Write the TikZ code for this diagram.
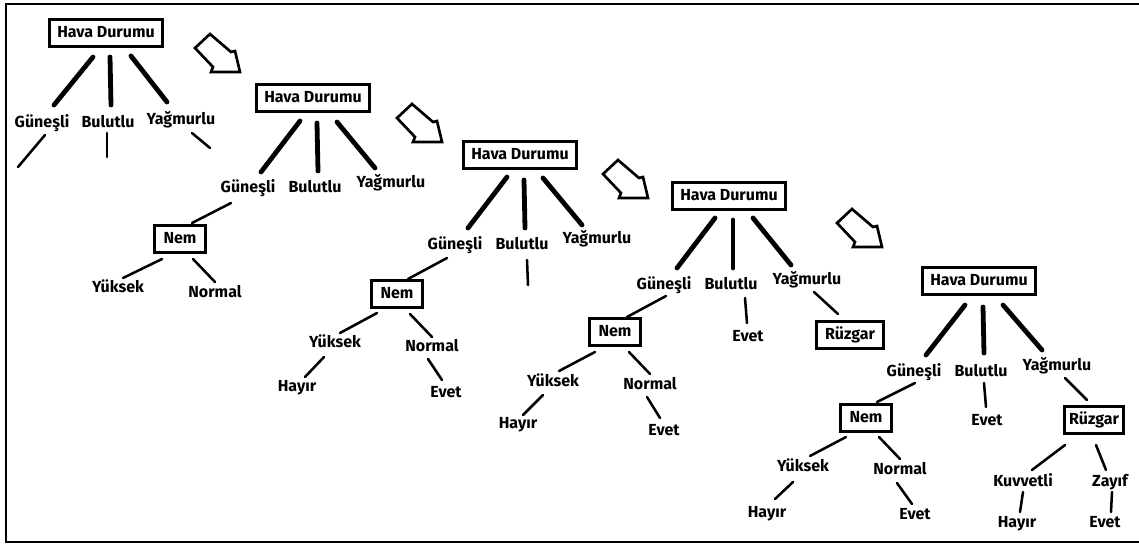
\documentclass[tikz,border=0pt]{standalone}
\usepackage{fontspec}
\setmainfont{Fira Sans}
\begin{document}
\begin{tikzpicture}[x=0.75pt,y=-0.75pt,
  lbl/.style={inner sep=0pt, font=\bfseries\fontsize{12}{14}\selectfont, text height=8.5pt, text depth=2.2pt},
  bx/.style={lbl, draw, line width=2.2pt, minimum height=20pt},
  hbox/.style={bx, minimum width=84.75pt},
  nbox/.style={bx, minimum width=38pt},
  thk/.style={line width=3.6pt, line cap=round},
  thn/.style={line width=1.9pt, line cap=round},
  hollowarrow/.pic={\draw[line width=2pt, line join=miter] (-30,-38) -- (-9,-20) -- (-5,-21) -- (0,0) -- (-29,0) -- (-27,-5) -- (-45,-24) -- cycle;}
]
\newcommand\conn[5]{\draw[#1] ([shift={#3}]#2.center) -- ([shift={#5}]#4.center);}
\useasboundingbox (0,0) rectangle (1139,543);
% frame
\draw[line width=2pt] (1145,4) -- (6,4) -- (6,542) -- (1145,542);
% arrows
\pic at (240,72) {hollowarrow};
\pic at (442,142) {hollowarrow};
\pic at (648,198) {hollowarrow};
\pic at (882,247) {hollowarrow};

% ---------- Tree 1 ----------
\node[hbox, minimum height=20.25pt] (ha) at (106,33) {Hava Durumu};
\node[lbl] (ga) at (42,123) {Güneşli};
\node[lbl] (ba) at (108,123) {Bulutlu};
\node[lbl] (ya) at (181,120) {Yağmurlu};
\coordinate (gaend) at (18,167);
\coordinate (baend) at (107,157);
\coordinate (yaend) at (210,148);
\conn{thk}{ha}{(-13,24)}{ga}{(12,-18)}
\conn{thk}{ha}{(4,24)}{ba}{(3,-18)}
\conn{thk}{ha}{(25,23)}{ya}{(-14,-18)}
\draw[thn] ([shift={(3,12)}]ga.center) -- (gaend);
\draw[thn] ([shift={(-1,10)}]ba.center) -- (baend);
\draw[thn] ([shift={(11,13)}]ya.center) -- (yaend);

% ---------- Tree 2 ----------
\node[hbox] (hb) at (313,98) {Hava Durumu};
\node[lbl] (gb) at (248,188) {Güneşli};
\node[lbl] (bb) at (315,188) {Bulutlu};
\node[lbl] (yb) at (391,183) {Yağmurlu};
\conn{thk}{hb}{(-13,23)}{gb}{(13,-16)}
\conn{thk}{hb}{(4,25)}{bb}{(3,-17)}
\conn{thk}{hb}{(24,24)}{yb}{(-16,-15)}
\node[nbox] (nb) at (180,239) {Nem};
\conn{thn}{gb}{(-17,15)}{nb}{(12,-16)}
\node[lbl] (ykb) at (118,288) {Yüksek};
\node[lbl] (nob) at (215,293) {Normal};
\conn{thn}{nb}{(-18,20)}{ykb}{(5,-10)}
\conn{thn}{nb}{(13,20)}{nob}{(0,-11)}

% ---------- Tree 3 ----------
\node[hbox] (hc) at (520,155) {Hava Durumu};
\node[lbl] (gc) at (455,245) {Güneşli};
\node[lbl] (bc) at (522,245) {Bulutlu};
\node[lbl] (yc) at (597,239) {Yağmurlu};
\conn{thk}{hc}{(-13,22)}{gc}{(13,-17)}
\conn{thk}{hc}{(4,25)}{bc}{(3,-17)}
\conn{thk}{hc}{(23,23)}{yc}{(-15,-14)}
\coordinate (bcend) at (528,285);
\draw[thn] ([shift={(5,15)}]bc.center) -- (bcend);
\node[nbox] (nc) at (397,294) {Nem};
\conn{thn}{gc}{(-8,13)}{nc}{(11,-15)}
\node[lbl] (ykc) at (335,343) {Yüksek};
\node[lbl] (noc) at (432,347) {Normal};
\conn{thn}{nc}{(-20,19)}{ykc}{(5,-10)}
\conn{thn}{nc}{(13,20)}{noc}{(0,-10)}
\node[lbl] (hyc) at (297,387) {Hayır};
\node[lbl] (evc) at (446,393) {Evet};
\conn{thn}{ykc}{(-11,14)}{hyc}{(8,-10)}
\conn{thn}{noc}{(-4,12)}{evc}{(-4,-13)}

% ---------- Tree 4 ----------
\node[hbox] (hd) at (729,196) {Hava Durumu};
\node[lbl] (gd) at (664,285) {Güneşli};
\node[lbl] (bd) at (731,285) {Bulutlu};
\node[lbl] (yd) at (807,280) {Yağmurlu};
\conn{thk}{hd}{(-14,22)}{gd}{(13,-17)}
\conn{thk}{hd}{(4,24)}{bd}{(2,-17)}
\conn{thk}{hd}{(24,22)}{yd}{(-16,-15)}
\node[lbl] (ed) at (748,337) {Evet};
\conn{thn}{bd}{(14,13)}{ed}{(-1,-14)}
\node[bx, minimum width=50pt] (rd) at (850,335) {Rüzgar};
\conn{thn}{yd}{(7,12)}{rd}{(-12,-21)}
\node[nbox] (nd) at (615,332) {Nem};
\conn{thn}{gd}{(2,11)}{nd}{(12,-15)}
\node[lbl] (ykd) at (553,382) {Yüksek};
\node[lbl] (nod) at (650,385) {Normal};
\conn{thn}{nd}{(-20,20)}{ykd}{(6,-11)}
\conn{thn}{nd}{(14,20)}{nod}{(0,-11)}
\node[lbl] (hyd) at (518,424) {Hayır};
\node[lbl] (evd) at (664,431) {Evet};
\conn{thn}{ykd}{(-10,13)}{hyd}{(5,-9)}
\conn{thn}{nod}{(-3,12)}{evd}{(-4,-13)}

% ---------- Tree 5 ----------
\node[hbox] (he) at (979,281) {Hava Durumu};
\node[lbl] (ge) at (914,372) {Güneşli};
\node[lbl] (be) at (981,372) {Bulutlu};
\node[lbl] (ye) at (1057,366) {Yağmurlu};
\conn{thk}{he}{(-14,24)}{ge}{(12,-17)}
\conn{thk}{he}{(4,26)}{be}{(3,-19)}
\conn{thk}{he}{(24,24)}{ye}{(-15,-16)}
\node[nbox] (ne) at (866,418) {Nem};
\conn{thn}{ge}{(1,11)}{ne}{(11,-16)}
\node[lbl] (ee) at (987,421) {Evet};
\conn{thn}{be}{(3,11)}{ee}{(-1,-14)}
\node[bx, minimum width=44.25pt] (re) at (1094,420) {Rüzgar};
\conn{thn}{ye}{(8,12)}{re}{(-7,-20)}
\node[lbl] (yke) at (803,467) {Yüksek};
\node[lbl] (noe) at (900,470) {Normal};
\conn{thn}{ne}{(-20,19)}{yke}{(7,-11)}
\conn{thn}{ne}{(13,19)}{noe}{(0,-11)}
\node[lbl] (hye) at (767,513) {Hayır};
\node[lbl] (eve) at (915,515) {Evet};
\conn{thn}{yke}{(-10,15)}{hye}{(8,-14)}
\conn{thn}{noe}{(-3,13)}{eve}{(-3,-11)}
\node[lbl] (kve) at (1023,482) {Kuvvetli};
\node[lbl] (zye) at (1110,482) {Zayıf};
\conn{thn}{re}{(-29,25)}{kve}{(9,-12)}
\conn{thn}{re}{(2,25)}{zye}{(-4,-12)}
\node[lbl] (hyf) at (1017,523) {Hayır};
\node[lbl] (evf) at (1105,523) {Evet};
\conn{thn}{kve}{(0,10)}{hyf}{(3,-11)}
\conn{thn}{zye}{(2,10)}{evf}{(6,-11)}
\end{tikzpicture}
\end{document}
